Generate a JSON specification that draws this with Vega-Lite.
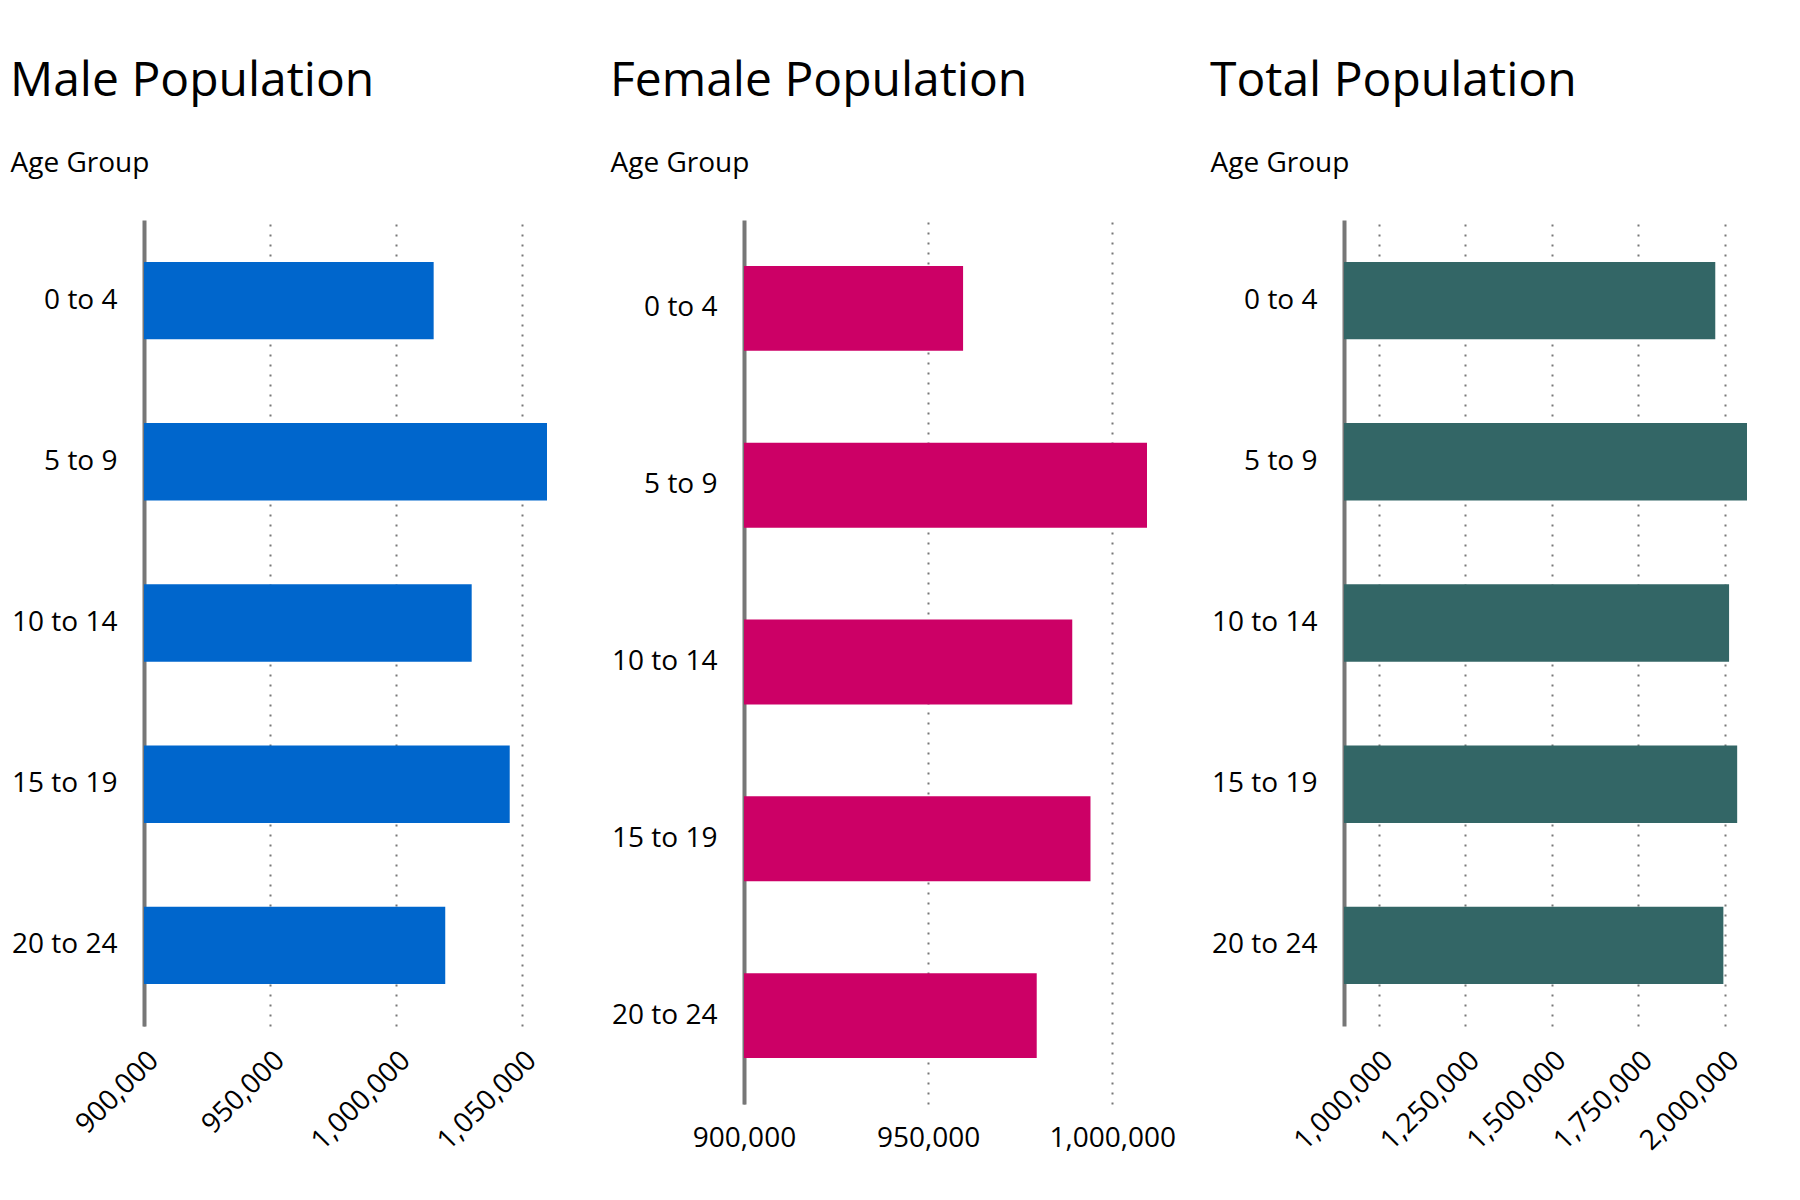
{
  "$schema": "https://vega.github.io/schema/vega-lite/v6.json",
  "padding": {"left": 10, "top": 58, "right": 10, "bottom": 10},
  "background": "white",
  "data": {"values": [
    {"age": "0 to 4", "male": 1015000, "female": 959500, "total": 1973000},
    {"age": "5 to 9", "male": 1060000, "female": 1009450, "total": 2064700},
    {"age": "10 to 14", "male": 1030100, "female": 989150, "total": 2012900},
    {"age": "15 to 19", "male": 1045200, "female": 994100, "total": 2036300},
    {"age": "20 to 24", "male": 1019600, "female": 979500, "total": 1996400}
  ]},
  "spacing": 197,
  "bounds": "flush",
  "hconcat": [
    {
      "title": {"text": "Male Population"},
      "width": 403,
      "height": 806,
      "mark": {"type": "bar", "color": "#0066cc"},
      "encoding": {
        "y": {"field": "age", "type": "nominal", "sort": null, "scale": {"paddingInner": 0.52, "paddingOuter": 0.26}, "axis": {"title": "Age Group"}},
        "x": {"field": "male", "type": "quantitative", "scale": {"domain": [900000, 1060000], "nice": false, "zero": false}, "axis": {"title": null, "labelExpr": "format(datum.value, ',')", "values": [900000, 950000, 1000000, 1050000], "labelAngle": -45}},
        "x2": {"datum": 900000}
      }
    },
    {
      "title": {"text": "Female Population"},
      "width": 403,
      "height": 884,
      "mark": {"type": "bar", "color": "#cc0066"},
      "encoding": {
        "y": {"field": "age", "type": "nominal", "sort": null, "scale": {"paddingInner": 0.52, "paddingOuter": 0.26}, "axis": {"title": "Age Group"}},
        "x": {"field": "female", "type": "quantitative", "scale": {"domain": [900000, 1009450], "nice": false, "zero": false}, "axis": {"title": null, "labelExpr": "format(datum.value, ',')", "values": [900000, 950000, 1000000], "labelAngle": 0, "labelAlign": "center"}},
        "x2": {"datum": 900000}
      }
    },
    {
      "title": {"text": "Total Population"},
      "width": 403,
      "height": 806,
      "mark": {"type": "bar", "color": "#336666"},
      "encoding": {
        "y": {"field": "age", "type": "nominal", "sort": null, "scale": {"paddingInner": 0.52, "paddingOuter": 0.26}, "axis": {"title": "Age Group"}},
        "x": {"field": "total", "type": "quantitative", "scale": {"domain": [900000, 2064700], "nice": false, "zero": false}, "axis": {"title": null, "labelExpr": "format(datum.value, ',')", "values": [1000000, 1250000, 1500000, 1750000, 2000000], "labelAngle": -45}},
        "x2": {"datum": 900000}
      }
    }
  ],
  "config": {
    "font": "Open Sans",
    "view": {"stroke": null},
    "title": {"anchor": "start", "fontSize": 48, "fontWeight": "normal", "color": "black", "offset": 43},
    "axisY": {
      "domain": true, "domainColor": "#777777", "domainWidth": 4, "ticks": false, "grid": false,
      "labelFontSize": 28, "labelColor": "black", "labelPadding": 27,
      "titleAngle": 0, "titleAlign": "left", "titleBaseline": "alphabetic", "titleX": -134, "titleY": -49,
      "titleFontSize": 28, "titleFontWeight": "normal", "titleColor": "black"
    },
    "axisX": {
      "domain": false, "ticks": false, "grid": true, "gridDash": [2, 8], "gridColor": "#777777", "gridWidth": 2,
      "labelFontSize": 28, "labelColor": "black", "labelPadding": 20,
      "labelOverlap": false, "labelFlush": false, "labelBound": false
    }
  }
}
